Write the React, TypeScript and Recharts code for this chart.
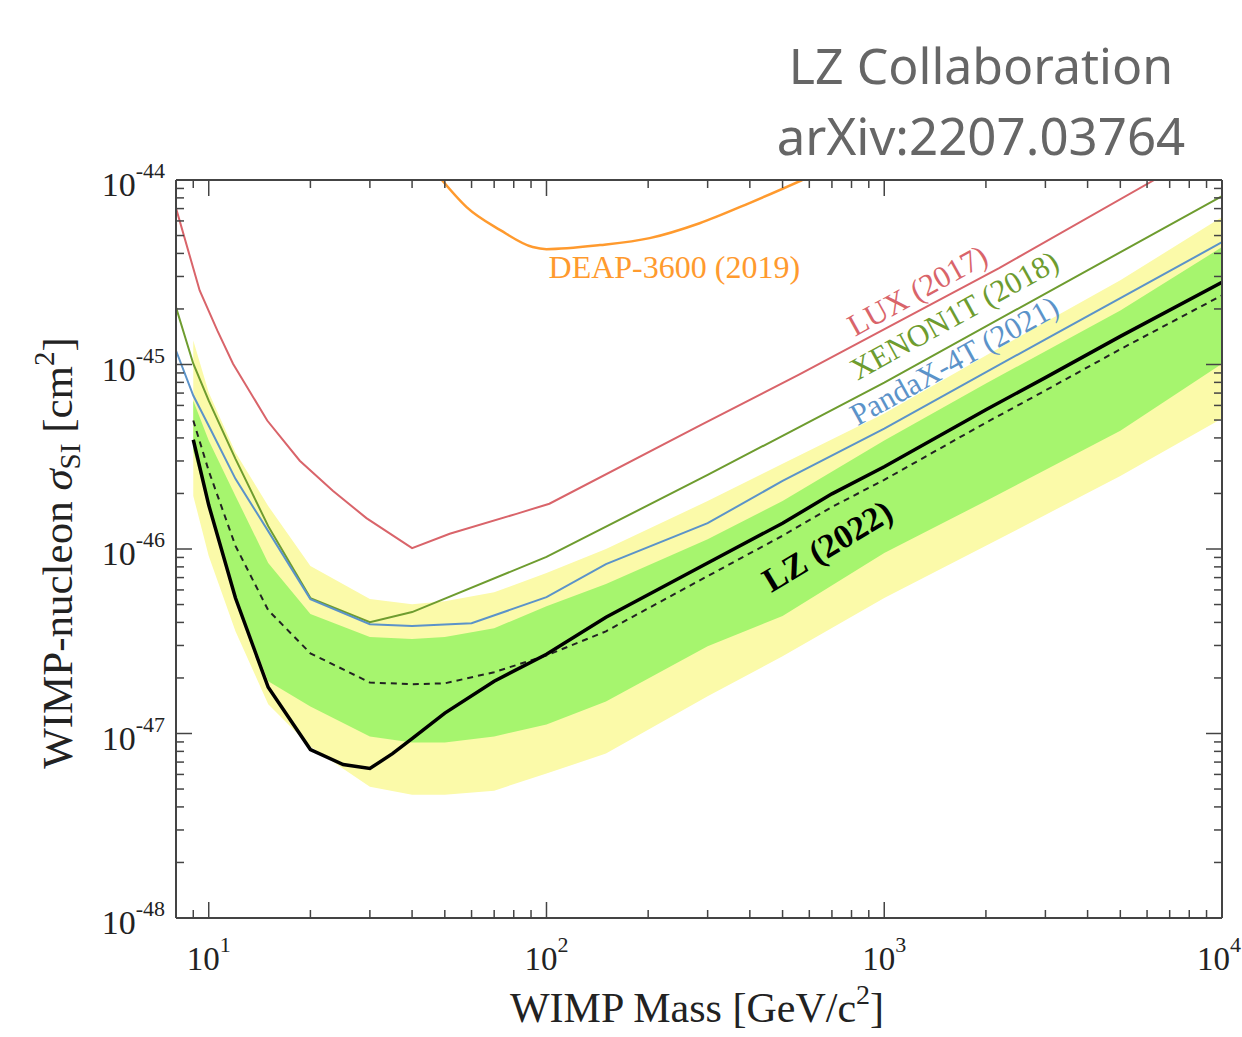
import React from "react";
import { ComposedChart, Area, Line, XAxis, YAxis, ReferenceDot } from "recharts";

// WIMP mass in GeV/c^2, cross section in cm^2
const luxMass = [8, 9.4, 10.6, 11.8, 14.9, 18.6, 23.3, 29.3, 40, 51.7, 81.5, 102, 284, 561, 2188, 6300];
const luxSigma = [7.05e-45, 2.52e-45, 1.53e-45, 1.01e-45, 4.97e-46, 3.01e-46, 2.07e-46, 1.47e-46, 1.01e-46, 1.21e-46, 1.55e-46, 1.76e-46, 4.66e-46, 8.83e-46, 3.33e-45, 1.0e-44];

const xenonMass = [8, 9, 10, 12, 15, 20, 30, 40, 100, 300, 1000, 10000];
const xenonSigma = [2.04e-45, 1.01e-45, 6.37e-46, 3.08e-46, 1.33e-46, 5.42e-47, 4.01e-47, 4.55e-47, 9.06e-47, 2.52e-46, 7.98e-46, 8.18e-45];

const pandaMass = [8, 9, 10, 12, 15, 20, 30, 40, 60, 100, 150, 300, 500, 1000, 3000, 10000];
const pandaSigma = [1.19e-45, 6.79e-46, 4.66e-46, 2.4e-46, 1.25e-46, 5.35e-47, 3.91e-47, 3.82e-47, 3.96e-47, 5.48e-47, 8.28e-47, 1.38e-46, 2.34e-46, 4.49e-46, 1.37e-45, 4.6e-45];

const deapMass = [49, 58, 73, 91, 100, 144, 202, 284, 399, 572];
const deapSigma = [1.0e-44, 7.13e-45, 5.35e-45, 4.33e-45, 4.22e-45, 4.44e-45, 4.84e-45, 5.83e-45, 7.5e-45, 1.0e-44];

const lzMass = [9, 10, 12, 15, 20, 25, 30, 35, 40, 50, 70, 100, 150, 300, 500, 700, 1000, 2000, 3000, 5000, 10000];
const lzSigma = [3.91e-46, 1.73e-46, 5.42e-47, 1.78e-47, 8.18e-48, 6.79e-48, 6.46e-48, 7.78e-48, 9.39e-48, 1.29e-47, 1.92e-47, 2.69e-47, 4.27e-47, 8.4e-47, 1.38e-46, 1.99e-46, 2.79e-46, 5.69e-46, 8.49e-46, 1.42e-45, 2.79e-45];

const medianMass = [9, 10, 12, 15, 20, 30, 40, 50, 70, 100, 150, 300, 500, 700, 1000, 2000, 3000, 5000, 10000];
const medianSigma = [4.97e-46, 2.65e-46, 1.04e-46, 4.66e-47, 2.72e-47, 1.89e-47, 1.85e-47, 1.87e-47, 2.15e-47, 2.65e-47, 3.58e-47, 7.13e-47, 1.18e-46, 1.69e-46, 2.37e-46, 4.84e-46, 7.23e-46, 1.21e-45, 2.37e-45];

const bandMass = [9, 10, 12, 15, 20, 30, 40, 50, 70, 100, 150, 300, 500, 1000, 2000, 5000, 10000];
const yellowHigh = [1.35e-45, 7.05e-46, 3.33e-46, 1.71e-46, 8.09e-47, 5.35e-47, 5.02e-47, 5.21e-47, 5.83e-47, 7.41e-47, 1.0e-46, 1.82e-46, 2.9e-46, 5.42e-46, 1.12e-45, 2.86e-45, 6.3e-45];
const greenHigh = [6.37e-46, 3.87e-46, 1.94e-46, 8.4e-47, 4.44e-47, 3.33e-47, 3.25e-47, 3.33e-47, 3.72e-47, 4.9e-47, 6.46e-47, 1.13e-46, 1.82e-46, 3.87e-46, 7.89e-46, 1.96e-45, 4.33e-45];
const greenLow = [3.41e-46, 1.71e-46, 5.56e-47, 1.92e-47, 1.4e-47, 9.64e-48, 8.93e-48, 8.93e-48, 9.64e-48, 1.12e-47, 1.49e-47, 2.97e-47, 4.33e-47, 9.51e-47, 1.82e-46, 4.38e-46, 1.01e-45];
const yellowLow = [1.94e-46, 9.17e-47, 3.58e-47, 1.44e-47, 8.49e-48, 5.15e-48, 4.66e-48, 4.66e-48, 4.9e-48, 6.07e-48, 7.78e-48, 1.59e-47, 2.62e-47, 5.42e-47, 1.04e-46, 2.49e-46, 5.09e-46];

const xMajorTicks = [10, 100, 1000, 10000];
const xMajorLabels = ["1", "2", "3", "4"];
const xMinorTicks = [9, 20, 30, 40, 50, 60, 70, 80, 90, 200, 300, 400, 500, 600, 700, 800, 900, 2000, 3000, 4000, 5000, 6000, 7000, 8000, 9000];
const yMajorTicks = [1e-48, 1e-47, 1e-46, 1e-45, 1e-44];
const yMajorLabels = ["-48", "-47", "-46", "-45", "-44"];
const yMinorTicks = [
  2e-48, 3e-48, 4e-48, 5e-48, 6e-48, 7e-48, 8e-48, 9e-48,
  2e-47, 3e-47, 4e-47, 5e-47, 6e-47, 7e-47, 8e-47, 9e-47,
  2e-46, 3e-46, 4e-46, 5e-46, 6e-46, 7e-46, 8e-46, 9e-46,
  2e-45, 3e-45, 4e-45, 5e-45, 6e-45, 7e-45, 8e-45, 9e-45,
];

// curve labels: text, mass, sigma, angle, colour, bold
const curveLabels = [
  { text: "DEAP-3600 (2019)", mass: 239, sigma: 3.37e-45, angle: 0, color: "#ff9a2e", bold: false, size: 32 },
  { text: "LUX (2017)", mass: 1253, sigma: 2.52e-45, angle: -29, color: "#d9646a", bold: false, size: 31 },
  { text: "XENON1T (2018)", mass: 1611, sigma: 1.85e-45, angle: -29, color: "#6e9c2f", bold: false, size: 31 },
  { text: "PandaX-4T (2021)", mass: 1611, sigma: 1.05e-45, angle: -29, color: "#5b93c9", bold: false, size: 31 },
  { text: "LZ (2022)", mass: 678, sigma: 1.04e-46, angle: -31, color: "#000000", bold: true, size: 34 },
];

const toSeries = (mass: number[], sigma: number[]) => mass.map((m, i) => ({ mass: m, sigma: sigma[i] }));

const bandData = bandMass.map((m, i) => ({
  mass: m,
  yellow: [yellowLow[i], yellowHigh[i]],
  green: [greenLow[i], greenHigh[i]],
}));

const SERIF = "'Liberation Serif', 'Times New Roman', serif";
const FRAME = "#444";
const xTicks = [...xMajorTicks, ...xMinorTicks].sort((a, b) => a - b);
const yTicks = [...yMajorTicks, ...yMinorTicks].sort((a, b) => a - b);

const BottomTick = (props: any) => {
  const { x, y, payload } = props;
  const idx = xMajorTicks.indexOf(payload.value);
  const len = idx >= 0 ? 16 : 8;
  const last = idx === xMajorTicks.length - 1;
  return (
    <g>
      <line x1={x} x2={x} y1={y} y2={y - len} stroke={FRAME} strokeWidth={1.5} />
      {idx >= 0 && (
        <text
          x={last ? x + 19 : x}
          y={y + 52}
          textAnchor={last ? "end" : "middle"}
          fontFamily={SERIF}
          fontSize={33}
          fill="#222"
        >
          10
          <tspan dy={-18} fontSize={22}>{xMajorLabels[idx]}</tspan>
        </text>
      )}
    </g>
  );
};

const TopTick = (props: any) => {
  const { x, y, payload } = props;
  const len = xMajorTicks.includes(payload.value) ? 16 : 8;
  return <line x1={x} x2={x} y1={y} y2={y + len} stroke={FRAME} strokeWidth={1.5} />;
};

const LeftTick = (props: any) => {
  const { x, y, payload } = props;
  const idx = yMajorTicks.indexOf(payload.value);
  const len = idx >= 0 ? 16 : 8;
  return (
    <g>
      <line x1={x} x2={x + len} y1={y} y2={y} stroke={FRAME} strokeWidth={1.5} />
      {idx >= 0 && (
        <text x={x - 11} y={y + 16} textAnchor="end" fontFamily={SERIF} fontSize={34} fill="#222">
          10
          <tspan dy={-18} fontSize={22}>{yMajorLabels[idx]}</tspan>
        </text>
      )}
    </g>
  );
};

const RightTick = (props: any) => {
  const { x, y, payload } = props;
  const len = yMajorTicks.includes(payload.value) ? 16 : 8;
  return <line x1={x} x2={x - len} y1={y} y2={y} stroke={FRAME} strokeWidth={1.5} />;
};

const XTitle = (props: any) => {
  const { viewBox } = props;
  const cx = viewBox.x + viewBox.width / 2 - 2;
  const cy = viewBox.y + 104;
  return (
    <text x={cx} y={cy} textAnchor="middle" fontFamily={SERIF} fontSize={42} fill="#222">
      {"WIMP Mass [GeV/c"}
      <tspan dy={-18} fontSize={28}>2</tspan>
      <tspan dy={18}>]</tspan>
    </text>
  );
};

const YTitle = (props: any) => {
  const { viewBox } = props;
  const cx = viewBox.x + viewBox.width - 104;
  const cy = viewBox.y + viewBox.height / 2 + 4;
  return (
    <text
      x={cx}
      y={cy}
      transform={`rotate(-90 ${cx} ${cy})`}
      textAnchor="middle"
      fontFamily={SERIF}
      fontSize={43}
      fill="#222"
    >
      {"WIMP-nucleon "}
      <tspan fontStyle="italic">σ</tspan>
      <tspan dy={8} fontSize={29}>SI</tspan>
      <tspan dy={-8}>{" [cm"}</tspan>
      <tspan dy={-18} fontSize={29}>2</tspan>
      <tspan dy={18}>]</tspan>
    </text>
  );
};

const labelShape = (lab: (typeof curveLabels)[number]) => (p: any) => (
  <text
    x={p.cx}
    y={p.cy}
    transform={`rotate(${lab.angle} ${p.cx} ${p.cy})`}
    textAnchor="middle"
    dominantBaseline="central"
    fontFamily={SERIF}
    fontSize={lab.size}
    fontWeight={lab.bold ? "bold" : "normal"}
    fill={lab.color}
  >
    {lab.text}
  </text>
);

export default function App() {
  return (
    <div style={{ position: "absolute", left: 0, top: 0, width: 1242, height: 1037, background: "#fff" }}>
      <ComposedChart
        width={1242}
        height={1037}
        data={bandData}
        margin={{ top: 179, right: 19, bottom: 118, left: 175 }}
      >
        <XAxis
          dataKey="mass"
          type="number"
          scale="log"
          domain={[8, 10000]}
          allowDataOverflow
          ticks={xTicks}
          interval={0}
          tick={<BottomTick />}
          tickLine={false}
          tickSize={0}
          tickMargin={0}
          height={1}
          axisLine={{ stroke: FRAME, strokeWidth: 2 }}
          label={<XTitle />}
        />
        <XAxis
          xAxisId="top"
          orientation="top"
          dataKey="mass"
          type="number"
          scale="log"
          domain={[8, 10000]}
          allowDataOverflow
          ticks={xTicks}
          interval={0}
          tick={<TopTick />}
          tickLine={false}
          tickSize={0}
          tickMargin={0}
          height={1}
          axisLine={{ stroke: FRAME, strokeWidth: 2 }}
        />
        <YAxis
          type="number"
          scale="log"
          domain={[1e-48, 1e-44]}
          allowDataOverflow
          ticks={yTicks}
          interval={0}
          tick={<LeftTick />}
          tickLine={false}
          tickSize={0}
          tickMargin={0}
          width={1}
          axisLine={{ stroke: FRAME, strokeWidth: 2 }}
          label={<YTitle />}
        />
        <YAxis
          yAxisId="right"
          orientation="right"
          type="number"
          scale="log"
          domain={[1e-48, 1e-44]}
          allowDataOverflow
          ticks={yTicks}
          interval={0}
          tick={<RightTick />}
          tickLine={false}
          tickSize={0}
          tickMargin={0}
          width={1}
          axisLine={{ stroke: FRAME, strokeWidth: 2 }}
        />

        <Area dataKey="yellow" type="linear" stroke="none" fill="#fbfaa9" fillOpacity={1} isAnimationActive={false} />
        <Area dataKey="green" type="linear" stroke="none" fill="#a6f56e" fillOpacity={1} isAnimationActive={false} />

        <Line data={toSeries(luxMass, luxSigma)} dataKey="sigma" type="linear" stroke="#d9646a" strokeWidth={2} dot={false} isAnimationActive={false} />
        <Line data={toSeries(xenonMass, xenonSigma)} dataKey="sigma" type="linear" stroke="#6e9c2f" strokeWidth={2} dot={false} isAnimationActive={false} />
        <Line data={toSeries(pandaMass, pandaSigma)} dataKey="sigma" type="linear" stroke="#5b93c9" strokeWidth={2} dot={false} isAnimationActive={false} />
        <Line data={toSeries(deapMass, deapSigma)} dataKey="sigma" type="monotone" stroke="#ff9a2e" strokeWidth={2.5} dot={false} isAnimationActive={false} />
        <Line data={toSeries(medianMass, medianSigma)} dataKey="sigma" type="linear" stroke="#222" strokeWidth={2} strokeDasharray="6 5" dot={false} isAnimationActive={false} />
        <Line data={toSeries(lzMass, lzSigma)} dataKey="sigma" type="linear" stroke="#000" strokeWidth={3.5} dot={false} isAnimationActive={false} />

        {curveLabels.map((lab) => (
          <ReferenceDot key={lab.text} x={lab.mass} y={lab.sigma} r={0} shape={labelShape(lab)} />
        ))}
      </ComposedChart>

      <div
        style={{
          position: "absolute",
          left: 731,
          top: 40,
          width: 500,
          textAlign: "center",
          fontFamily: "'Noto Sans', sans-serif",
          fontSize: 50,
          lineHeight: "50px",
          color: "#666",
        }}
      >
        LZ Collaboration
      </div>
      <div
        style={{
          position: "absolute",
          left: 731,
          top: 110,
          width: 500,
          textAlign: "center",
          fontFamily: "'Noto Sans', sans-serif",
          fontSize: 51,
          lineHeight: "50px",
          color: "#666",
        }}
      >
        arXiv:2207.03764
      </div>
    </div>
  );
}
